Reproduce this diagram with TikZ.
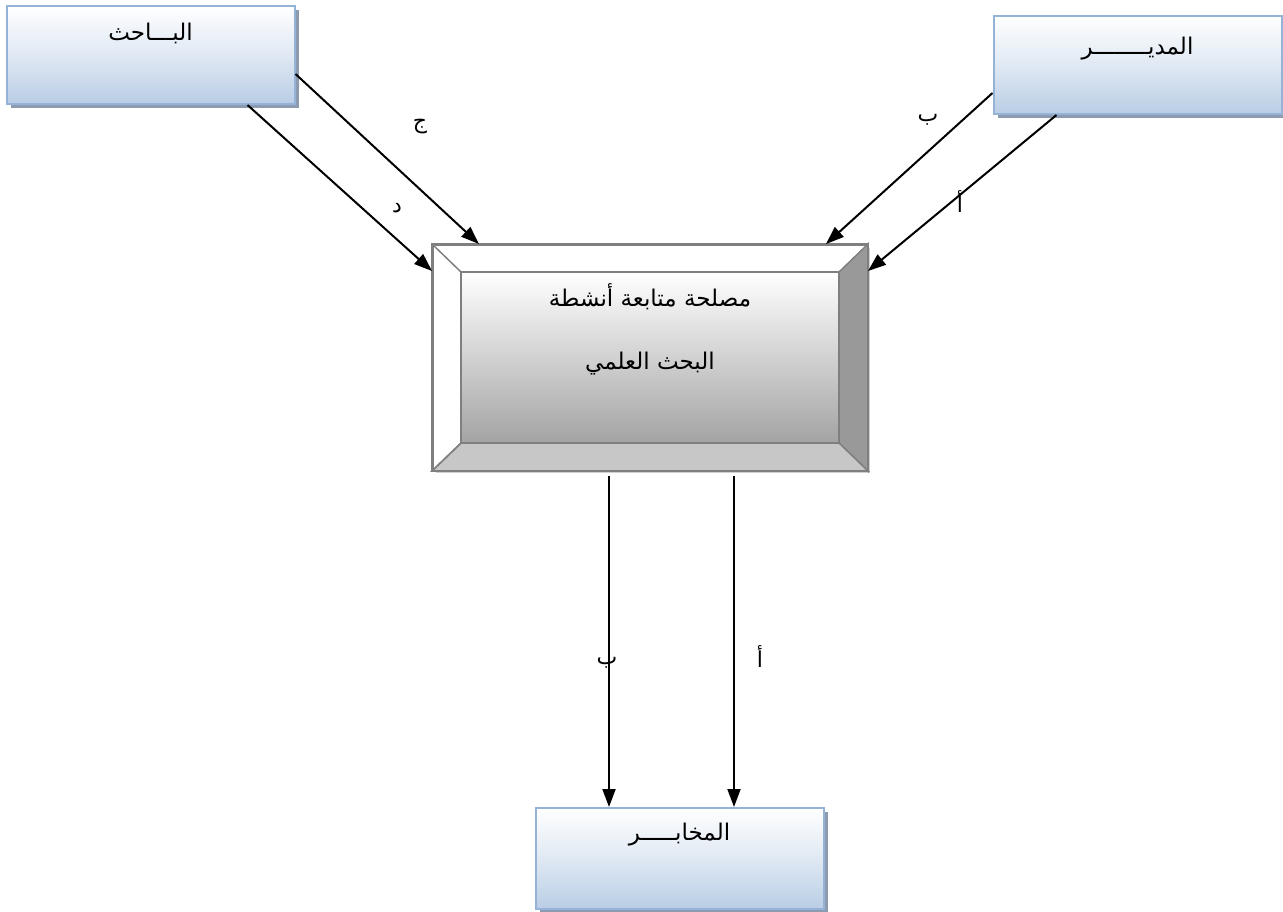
\documentclass[tikz,border=0pt]{standalone}
\usepackage{fontspec}
\newfontfamily\arabicfont[Script=Arabic]{DejaVu Sans}
\TeXXeTstate=1
\usetikzlibrary{positioning,arrows.meta,shadows}
\definecolor{boxline}{HTML}{95B3D7}
\definecolor{boxfill}{HTML}{B9CDE5}
\definecolor{boxshadow}{HTML}{8C9BB0}
\definecolor{bevelline}{HTML}{7F7F7F}
\tikzset{
  actor/.style={draw=boxline, line width=2pt, top color=white, bottom color=boxfill,
    middle color=boxfill!45, minimum width=288pt, minimum height=98pt, inner sep=0pt,
    drop shadow={shadow xshift=4pt, shadow yshift=-4pt, fill=boxshadow, opacity=1}},
  title/.style={font=\arabicfont\fontsize{23}{27}\selectfont, inner sep=0pt},
  flowlabel/.style={font=\arabicfont\fontsize{22}{26}\selectfont, inner sep=0pt},
  flow/.style={line width=2pt, -{Triangle[length=18pt,width=13pt]}}
}
\begin{document}
\begin{tikzpicture}[x=1pt,y=-1pt]
\useasboundingbox (0,0) rectangle (1283,912);
% actors
\node[actor] (res) at (150.5,55) {};
\node[title, below=18pt of res.north] (res-t) {\beginR البـــاحث\endR};
\node[actor] (dir) at (1137.5,65) {};
\node[title, below=22pt of dir.north] (dir-t) {\beginR المديــــــــر\endR};
\node[actor, minimum height=101pt] (lab) at (679.5,858.5) {};
\node[title, below=16pt of lab.north] (lab-t) {\beginR المخابـــــر\endR};
% central unit
\node[draw=bevelline, line width=2pt, fill=white, minimum width=434pt, minimum height=225pt,
  inner sep=0pt, drop shadow={shadow xshift=3pt, shadow yshift=-3pt, fill=black!18, opacity=1}] (unit) at (650,357.5) {};
\coordinate (in-nw) at ([shift={(29pt,-28pt)}]unit.north west);
\coordinate (in-ne) at ([shift={(-29pt,-28pt)}]unit.north east);
\coordinate (in-se) at ([shift={(-29pt,28pt)}]unit.south east);
\coordinate (in-sw) at ([shift={(29pt,28pt)}]unit.south west);
\filldraw[fill=black!40, draw=bevelline, line width=1.5pt] (unit.north east) -- (unit.south east) -- (in-se) -- (in-ne) -- cycle;
\filldraw[fill=black!22, draw=bevelline, line width=1.5pt] (unit.south west) -- (unit.south east) -- (in-se) -- (in-sw) -- cycle;
\draw[bevelline, line width=1.5pt] (unit.north west) -- (in-nw) (unit.south west) -- (in-sw);
\path[top color=white, bottom color=black!36, draw=bevelline, line width=2pt] (in-nw) rectangle (in-se);
\draw[bevelline, line width=2pt] (unit.north west) rectangle (unit.south east);
\node[title] (unit-t1) at ([yshift=-53pt]unit.north) {\beginR مصلحة متابعة أنشطة\endR};
\node[title] (unit-t2) at ([yshift=-120pt]unit.north) {\beginR البحث العلمي\endR};
% flows
\draw[flow] ([yshift=-69pt]res.north east) -- ([xshift=47pt]unit.north west);
\draw[flow] ([xshift=-48pt]res.south east) -- ([yshift=-27pt]unit.north west);
\draw[flow] ([yshift=22pt]dir.south west) -- ([xshift=-42pt]unit.north east);
\draw[flow] ([xshift=64pt]dir.south west) -- ([yshift=-27pt]unit.north east);
\coordinate (out-b) at ([xshift=-41pt,yshift=-5pt]unit.south);
\coordinate (out-a) at ([xshift=84pt,yshift=-5pt]unit.south);
\draw[flow] (out-b) -- (out-b |- lab.north);
\draw[flow] (out-a) -- (out-a |- lab.north);
\node[flowlabel] (l-c) at (420,127) {ج};
\node[flowlabel] (l-d) at (397,208) {د};
\node[flowlabel] (l-b1) at (928,120) {ب};
\node[flowlabel] (l-a1) at (960,202) {أ};
\node[flowlabel] (l-b2) at (607,663) {ب};
\node[flowlabel] (l-a2) at (760,657) {أ};
\end{tikzpicture}
\end{document}
